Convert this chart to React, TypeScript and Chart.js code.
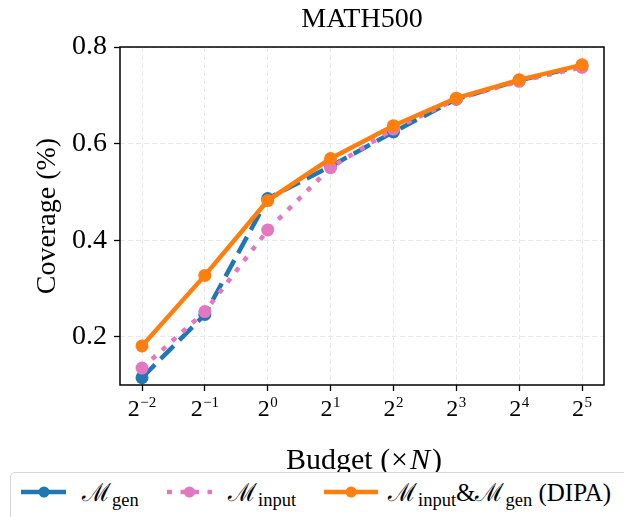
import React, { useEffect, useRef } from "react";
import { Chart, registerables } from "chart.js";

Chart.register(...registerables);

// ---- data ----
const budgetExponents = [-2, -1, 0, 1, 2, 3, 4, 5]; // budget = 2^e (×N)
const genCoverage = [0.115, 0.246, 0.486, 0.553, 0.624, 0.692, 0.731, 0.761];
const inputCoverage = [0.135, 0.252, 0.421, 0.55, 0.63, 0.692, 0.729, 0.758];
const dipaCoverage = [0.181, 0.327, 0.482, 0.569, 0.637, 0.694, 0.732, 0.763];
const yTickValues = [0.2, 0.4, 0.6, 0.8];
const chartTitle = "MATH500";
const yAxisTitle = "Coverage (%)";

const SERIF = '"Liberation Serif", "Times New Roman", serif';
const BLUE = "#1f77b4";
const PINK = "#e377c2";
const ORANGE = "#ff7f0e";
const LW = 4.5;
const DASH = [18.5, 8];
const DOT = [5, 8.5];

const framePlugin = {
  id: "frame",
  afterDatasetsDraw(chart: any) {
    const { ctx, chartArea } = chart;
    ctx.save();
    ctx.strokeStyle = "#000";
    ctx.lineWidth = 1.5;
    ctx.strokeRect(chartArea.left, chartArea.top, chartArea.right - chartArea.left, chartArea.bottom - chartArea.top);
    ctx.restore();
  },
};

const xLabelsPlugin = {
  id: "xlabels",
  afterDraw(chart: any) {
    const { ctx } = chart;
    const xs = chart.scales.x;
    ctx.save();
    ctx.fillStyle = "#000";
    ctx.textBaseline = "alphabetic";
    ctx.textAlign = "left";
    for (const e of budgetExponents) {
      const px = xs.getPixelForValue(e);
      const base = "2";
      const exp = e < 0 ? "\u2212" + String(-e) : String(e);
      ctx.font = `24px ${SERIF}`;
      const wb = ctx.measureText(base).width;
      ctx.font = `15px ${SERIF}`;
      const we = ctx.measureText(exp).width;
      const gap = 0.5;
      const x0 = px - (wb + gap + we) / 2;
      ctx.font = `24px ${SERIF}`;
      ctx.fillText(base, x0, 416);
      ctx.font = `15px ${SERIF}`;
      ctx.fillText(exp, x0 + wb + gap, 407);
    }
    // x axis title: Budget (×N)
    const parts: [string, string][] = [
      ["Budget (", `30px ${SERIF}`],
      ["\u00d7", `30px ${SERIF}`],
      ["N", `italic 30px ${SERIF}`],
      [")", `30px ${SERIF}`],
    ];
    const gaps = [0, 1, 2, 2];
    let total = 0;
    const widths: number[] = [];
    parts.forEach(([t, f], i) => {
      ctx.font = f;
      const w = ctx.measureText(t).width;
      widths.push(w);
      total += w + gaps[i];
    });
    const cx = (xs.left + xs.right) / 2 + 2;
    let x = cx - total / 2;
    parts.forEach(([t, f], i) => {
      x += gaps[i];
      ctx.font = f;
      ctx.fillText(t, x, 469);
      x += widths[i];
    });
    ctx.restore();
  },
};

function pts(values: number[]) {
  return budgetExponents.map((x, i) => ({ x, y: values[i] }));
}

function ChartCanvas() {
  const ref = useRef<HTMLCanvasElement | null>(null);
  useEffect(() => {
    if (!ref.current) return;
    const gridCommon = {
      color: "#e8e8e8",
      lineWidth: 1,
      tickLength: 6,
      tickColor: "#000",
      tickWidth: 1.3,
    };
    const chart = new Chart(ref.current, {
      type: "line",
      data: {
        datasets: [
          {
            label: "M_gen",
            data: pts(genCoverage),
            borderColor: BLUE,
            backgroundColor: BLUE,
            pointBackgroundColor: BLUE,
            borderWidth: LW,
            borderDash: DASH,
            pointRadius: 6.5,
            pointBorderWidth: 0,
            pointHoverRadius: 6.5,
            order: 2,
          },
          {
            label: "M_input",
            data: pts(inputCoverage),
            borderColor: PINK,
            backgroundColor: PINK,
            pointBackgroundColor: PINK,
            borderWidth: LW,
            borderDash: DOT,
            pointRadius: 6.5,
            pointBorderWidth: 0,
            pointHoverRadius: 6.5,
            order: 1,
          },
          {
            label: "M_input&M_gen (DIPA)",
            data: pts(dipaCoverage),
            borderColor: ORANGE,
            backgroundColor: ORANGE,
            pointBackgroundColor: ORANGE,
            borderWidth: LW,
            pointRadius: 6.5,
            pointBorderWidth: 0,
            pointHoverRadius: 6.5,
            order: 0,
          },
        ],
      },
      options: {
        animation: false,
        responsive: false,
        events: [],
        layout: { padding: { left: 0, right: 20, top: 0, bottom: 0 } },
        plugins: {
          legend: { display: false },
          tooltip: { enabled: false },
          title: {
            display: true,
            text: chartTitle,
            fullSize: false,
            color: "#000",
            font: { family: SERIF, size: 28, weight: "normal" },
            padding: { top: 3, bottom: 10.4 },
          },
        },
        scales: {
          x: {
            type: "linear",
            min: -2.35,
            max: 5.35,
            afterBuildTicks: (s: any) => {
              s.ticks = budgetExponents.map((v) => ({ value: v }));
            },
            afterFit: (s: any) => {
              s.height = 132;
            },
            ticks: { display: false },
            grid: gridCommon,
            border: { display: false, dash: [5, 3] },
          },
          y: {
            type: "linear",
            min: 0.1,
            max: 0.8,
            afterBuildTicks: (s: any) => {
              s.ticks = yTickValues.map((v) => ({ value: v }));
            },
            afterFit: (s: any) => {
              s.width = 120;
            },
            ticks: {
              color: "#000",
              padding: 7,
              font: { family: SERIF, size: 28 },
              callback: (v: any) => Number(v).toFixed(1),
            },
            grid: gridCommon,
            border: { display: false, dash: [5, 3] },
            title: {
              display: true,
              text: yAxisTitle,
              color: "#000",
              font: { family: SERIF, size: 28 },
              padding: { top: 30.7, bottom: 0 },
            },
          },
        },
      } as any,
      plugins: [framePlugin, xLabelsPlugin],
    });
    return () => chart.destroy();
  }, []);
  return <canvas ref={ref} width={624} height={517} style={{ display: "block", width: 624, height: 517 }} />;
}

const scriptM = "\u2133";

function MathLabel({ parts }: { parts: { m?: boolean; sub?: string; text?: string }[] }) {
  return (
    <span style={{ fontFamily: SERIF, fontSize: 25, lineHeight: "24px", whiteSpace: "nowrap" }}>
      {parts.map((p, i) =>
        p.m ? (
          <span key={i}>
            <span style={{ fontFamily: '"DejaVu Serif", serif', fontSize: 25, marginRight: 1 }}>{scriptM}</span>
            <span style={{ fontFamily: SERIF, fontSize: 18.5, position: "relative", top: 5 }}>{p.sub}</span>
          </span>
        ) : (
          <span key={i} style={{ fontFamily: SERIF }}>{p.text}</span>
        )
      )}
    </span>
  );
}

const legendItems = [
  { color: BLUE, dash: DASH, x0: 20.7, x1: 66.7, textX: 82, parts: [{ m: true, sub: "gen" }] },
  { color: PINK, dash: DOT, x0: 166.7, x1: 211.7, textX: 228, parts: [{ m: true, sub: "input" }] },
  {
    color: ORANGE,
    dash: null as number[] | null,
    x0: 324,
    x1: 378.3,
    textX: 388,
    parts: [{ m: true, sub: "input" }, { text: "&" }, { m: true, sub: "gen" }, { text: " (DIPA)" }],
  },
];

export default function App() {
  const legendY = 492.3;
  return (
    <div style={{ position: "absolute", left: 0, top: 0, width: 624, height: 517, overflow: "hidden", background: "#fff" }}>
      <ChartCanvas />
      <div
        style={{
          position: "absolute",
          left: 10,
          top: 471.5,
          width: 640,
          height: 70,
          border: "1.5px solid #d4d4d4",
          borderRadius: 5,
          background: "#fff",
          boxSizing: "border-box",
        }}
      />
      {legendItems.map((it, i) => {
        const w = it.x1 - it.x0;
        return (
          <React.Fragment key={i}>
            <svg
              style={{ position: "absolute", left: it.x0, top: legendY - 10 }}
              width={w}
              height={20}
              viewBox={`0 0 ${w} 20`}
            >
              <line
                x1={0}
                y1={10}
                x2={w}
                y2={10}
                stroke={it.color}
                strokeWidth={LW}
                strokeDasharray={it.dash ? it.dash.join(" ") : undefined}
              />
              <circle cx={w / 2} cy={10} r={5.5} fill={it.color} />
            </svg>
            <div style={{ position: "absolute", left: it.textX, top: 481 }}>
              <MathLabel parts={it.parts} />
            </div>
          </React.Fragment>
        );
      })}
    </div>
  );
}
